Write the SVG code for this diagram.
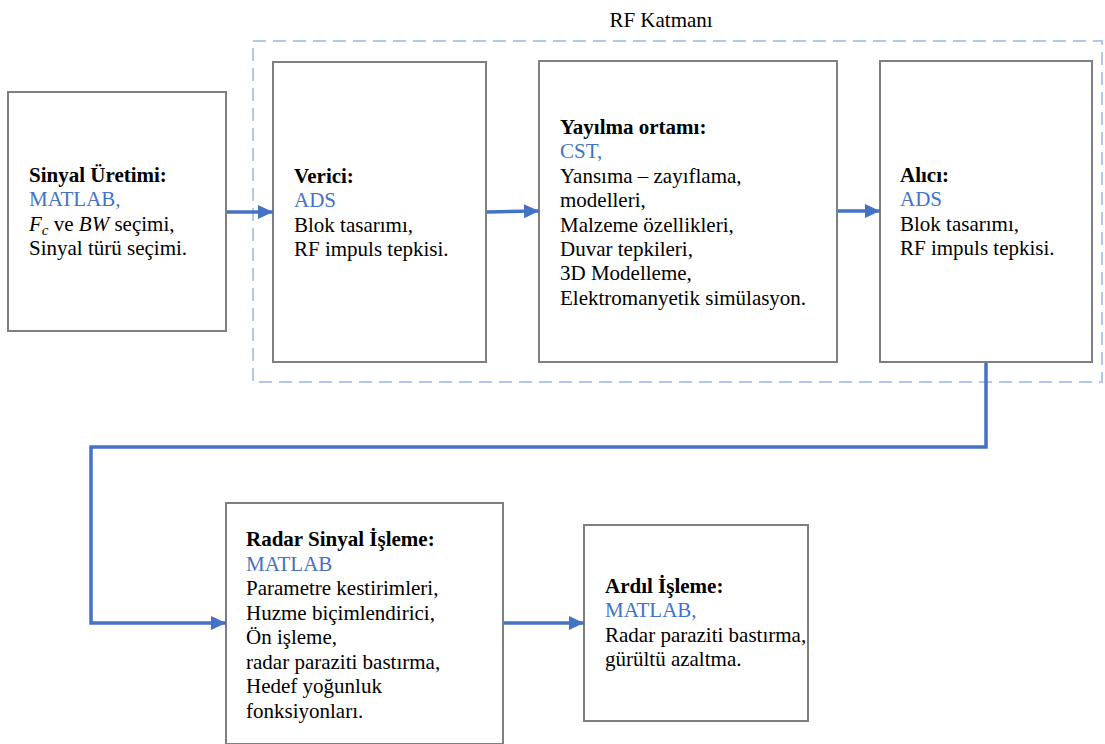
<svg xmlns="http://www.w3.org/2000/svg" width="1105" height="744" viewBox="0 0 1105 744">
<style>
text{font-family:"Liberation Serif","Times New Roman",serif;font-size:21px;fill:#000}
.b{font-weight:bold}
.blue{fill:#4472C4}
.box{fill:#fff;stroke:#7f7f7f;stroke-width:2}
.conn{fill:none;stroke:#4472C4;stroke-width:3.5}
.group{fill:none;stroke:#b4c7e7;stroke-width:2;stroke-dasharray:13 7}
</style>
<defs>
<marker id="arr" markerUnits="userSpaceOnUse" markerWidth="16" markerHeight="14" refX="15" refY="7" orient="auto">
<path d="M0,0 L15,7 L0,14 z" fill="#4472C4"/>
</marker>
</defs>
<g id="rf-layer">
<rect class="group" x="253" y="41" width="849" height="341"/>
<text x="661" y="27" text-anchor="middle">RF Katmanı</text>
</g>
<g id="sinyal-uretimi">
<rect class="box" x="8" y="92" width="218" height="239"/>
<text x="29" y="182" class="b">Sinyal Üretimi:</text>
<text x="29" y="206" class="blue">MATLAB,</text>
<text x="29" y="231"><tspan font-style="italic">F</tspan><tspan font-style="italic" font-size="15" dy="4">c</tspan><tspan dy="-4"> ve </tspan><tspan font-style="italic">BW</tspan> seçimi,</text>
<text x="29" y="255">Sinyal türü seçimi.</text>
</g>
<g id="verici">
<rect class="box" x="273" y="62" width="213" height="300"/>
<text x="294" y="183" class="b">Verici:</text>
<text x="294" y="207" class="blue">ADS</text>
<text x="294" y="232">Blok tasarımı,</text>
<text x="294" y="256">RF impuls tepkisi.</text>
</g>
<g id="yayilma">
<rect class="box" x="539" y="61" width="298" height="301"/>
<text x="560" y="134" class="b">Yayılma ortamı:</text>
<text x="560" y="158.4" class="blue">CST,</text>
<text x="560" y="182.8">Yansıma – zayıflama,</text>
<text x="560" y="207.2">modelleri,</text>
<text x="560" y="231.6">Malzeme özellikleri,</text>
<text x="560" y="256">Duvar tepkileri,</text>
<text x="560" y="280.4">3D Modelleme,</text>
<text x="560" y="304.8">Elektromanyetik simülasyon.</text>
</g>
<g id="alici">
<rect class="box" x="880" y="61" width="212" height="301"/>
<text x="900" y="182" class="b">Alıcı:</text>
<text x="900" y="206" class="blue">ADS</text>
<text x="900" y="231">Blok tasarımı,</text>
<text x="900" y="255">RF impuls tepkisi.</text>
</g>
<g id="radar-sinyal-isleme">
<rect class="box" x="226" y="503" width="277" height="241"/>
<text x="246" y="546" class="b">Radar Sinyal İşleme:</text>
<text x="246" y="570.5" class="blue">MATLAB</text>
<text x="246" y="595">Parametre kestirimleri,</text>
<text x="246" y="619.5">Huzme biçimlendirici,</text>
<text x="246" y="644">Ön işleme,</text>
<text x="246" y="668.5">radar paraziti bastırma,</text>
<text x="246" y="693">Hedef yoğunluk</text>
<text x="246" y="717.5">fonksiyonları.</text>
</g>
<g id="ardil-isleme">
<rect class="box" x="584" y="525" width="224" height="196"/>
<text x="605" y="593" class="b">Ardıl İşleme:</text>
<text x="605" y="617" class="blue">MATLAB,</text>
<text x="605" y="642">Radar paraziti bastırma,</text>
<text x="605" y="666">gürültü azaltma.</text>
</g>
<g id="connectors">
<path class="conn" d="M227,212 H273" marker-end="url(#arr)"/>
<path class="conn" d="M487,212 L539,211" marker-end="url(#arr)"/>
<path class="conn" d="M838,211 H880" marker-end="url(#arr)"/>
<path class="conn" d="M986,363 V447 H91 V623 H226" marker-end="url(#arr)"/>
<path class="conn" d="M504,623 H584" marker-end="url(#arr)"/>
</g>
</svg>
